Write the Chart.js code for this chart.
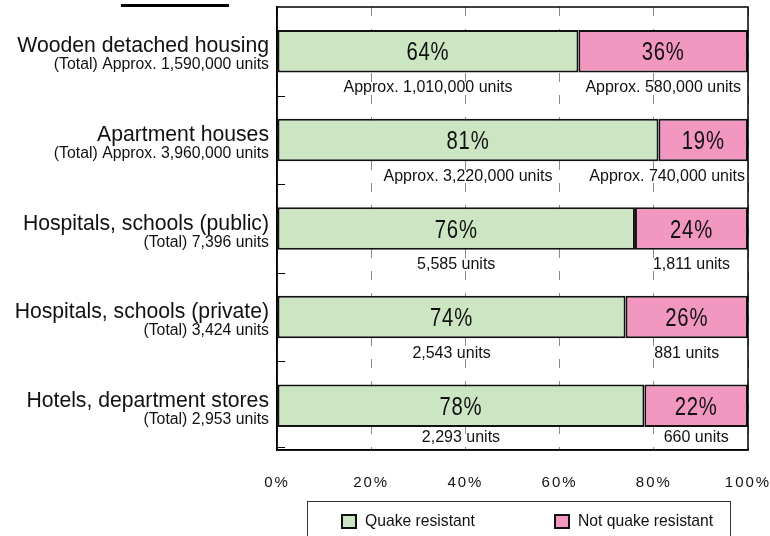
<!DOCTYPE html>
<html>
<head>
<meta charset="utf-8">
<script src="https://cdn.jsdelivr.net/npm/chart.js@4/dist/chart.umd.min.js"></script>
<style>
  html, body { margin: 0; padding: 0; background: #fff; }
  #wrap { width: 770px; height: 536px; position: relative; }
</style>
</head>
<body>
<div id="wrap"><canvas id="grafico" width="770" height="536"></canvas></div>
<script>
// datos del gráfico
const categorias = [
    'Wooden detached housing',
    'Apartment houses',
    'Hospitals, schools (public)',
    'Hospitals, schools (private)',
    'Hotels, department stores'
];
const totales = [
    '(Total) Approx. 1,590,000 units',
    '(Total) Approx. 3,960,000 units',
    '(Total) 7,396 units',
    '(Total) 3,424 units',
    '(Total) 2,953 units'
];
const resistentes = [64, 81, 76, 74, 78];
const noResistentes = [36, 19, 24, 26, 22];
const unidadesResistentes = [
    'Approx. 1,010,000 units',
    'Approx. 3,220,000 units',
    '5,585 units',
    '2,543 units',
    '2,293 units'
];
const unidadesNoResistentes = [
    'Approx. 580,000 units',
    'Approx. 740,000 units',
    '1,811 units',
    '881 units',
    '660 units'
];
const ticksX = [0, 20, 40, 60, 80, 100];
const nombresSeries = ['Quake resistant', 'Not quake resistant'];

const VERDE = '#cce6c4';
const ROSA = '#f297c0';
const unidades = [unidadesResistentes, unidadesNoResistentes];

// etiquetas del eje Y, marcas, borde, porcentajes y leyenda
const extras = {
    id: 'extras',
    beforeDraw(chart) {
        chart.ctx.letterSpacing = '2px';
    },
    beforeDatasetsDraw(chart) {
        chart.ctx.letterSpacing = '0px';
    },
    afterDatasetsDraw(chart) {
        const ctx = chart.ctx;
        const area = chart.chartArea;
        const y = chart.scales.y;
        ctx.save();

        // borde del área
        ctx.strokeStyle = '#000';
        ctx.lineWidth = 1.5;
        ctx.strokeRect(area.left, area.top, area.right - area.left, area.bottom - area.top);

        // marcas cortas entre categorías
        ctx.lineWidth = 1;
        for (let i = 0; i < categorias.length; i++) {
            let yy = i < categorias.length - 1
                ? (y.getPixelForValue(i) + y.getPixelForValue(i + 1)) / 2
                : area.bottom - 3;
            ctx.beginPath();
            ctx.moveTo(area.left, Math.round(yy) + 0.5);
            ctx.lineTo(area.left + 8, Math.round(yy) + 0.5);
            ctx.stroke();
        }

        // etiquetas de categoría (dos líneas)
        ctx.fillStyle = '#111';
        ctx.textAlign = 'right';
        ctx.textBaseline = 'alphabetic';
        categorias.forEach((cat, i) => {
            const cy = y.getPixelForValue(i);
            ctx.font = '21.2px "Liberation Sans", Arial, sans-serif';
            ctx.fillText(cat, area.left - 8, cy + 1);
            ctx.font = '15.8px "Liberation Sans", Arial, sans-serif';
            ctx.fillText(totales[i], area.left - 8, cy + 18);
        });

        // porcentajes y unidades
        chart.data.datasets.forEach((ds, d) => {
            const meta = chart.getDatasetMeta(d);
            meta.data.forEach((bar, i) => {
                const cx = (bar.x + bar.base) / 2;
                ctx.textAlign = 'center';
                ctx.textBaseline = 'middle';
                ctx.fillStyle = '#111';
                ctx.save();
                ctx.translate(cx, bar.y + 2);
                ctx.scale(0.78, 1);
                ctx.letterSpacing = '1px';
                ctx.font = '26px "Liberation Sans", Arial, sans-serif';
                ctx.fillText(ds.data[i] + '%', 0, 0);
                ctx.restore();

                ctx.font = '16px "Liberation Sans", Arial, sans-serif';
                const txt = unidades[d][i];
                const w = ctx.measureText(txt).width;
                let ux = cx;
                if (ux + w / 2 > area.right - 3) ux = area.right - 3 - w / 2;
                let uy = Math.min(bar.y + bar.height / 2 + 15, area.bottom - 12);
                ctx.fillText(txt, ux, uy);
            });
        });

        // leyenda con recuadro
        const lx = 307, ly = 501;
        ctx.lineWidth = 1;
        ctx.strokeStyle = '#333';
        ctx.strokeRect(lx + 0.5, ly + 0.5, 423, 60);
        const items = [
            { x: 342, color: VERDE },
            { x: 555, color: ROSA }
        ];
        items.forEach((it, k) => {
            ctx.fillStyle = it.color;
            ctx.fillRect(it.x, 515, 14, 13);
            ctx.lineWidth = 2;
            ctx.strokeStyle = '#111';
            ctx.strokeRect(it.x, 515, 14, 13);
            ctx.fillStyle = '#111';
            ctx.textAlign = 'left';
            ctx.textBaseline = 'middle';
            ctx.font = '15.7px "Liberation Sans", Arial, sans-serif';
            ctx.fillText(nombresSeries[k], it.x + 23, 522);
        });

        // subrayado del título cortado
        ctx.fillStyle = '#000';
        ctx.fillRect(121, 4, 108, 3);

        ctx.restore();
    }
};

const ctx = document.getElementById('grafico').getContext('2d');
new Chart(ctx, {
    type: 'bar',
    data: {
        labels: categorias,
        datasets: [
            {
                label: nombresSeries[0],
                data: resistentes,
                backgroundColor: VERDE,
                borderColor: '#111',
                borderWidth: 2,
                borderSkipped: false
            },
            {
                label: nombresSeries[1],
                data: noResistentes,
                backgroundColor: ROSA,
                borderColor: '#111',
                borderWidth: 2,
                borderSkipped: false
            }
        ]
    },
    options: {
        indexAxis: 'y',
        responsive: false,
        animation: false,
        layout: { padding: { left: 277, right: 22, top: 7, bottom: 0 } },
        datasets: { bar: { categoryPercentage: 1, barPercentage: 0.48 } },
        plugins: {
            legend: { display: false },
            tooltip: { enabled: false }
        },
        scales: {
            x: {
                stacked: true,
                min: 0,
                max: 100,
                afterFit: s => { s.height = 86; s.paddingLeft = 0; s.paddingRight = 0; },
                afterBuildTicks: s => { s.ticks = ticksX.map(v => ({ value: v })); },
                grid: {
                    color: '#8a8a8a',
                    lineWidth: 1,
                    drawTicks: false
                },
                border: { display: true, color: '#000', width: 1.5, dash: [9, 13] },
                ticks: {
                    padding: 24,
                    maxRotation: 0,
                    color: '#111',
                    font: { family: '"Liberation Sans", Arial, sans-serif', size: 15 },
                    callback: v => v + '%'
                }
            },
            y: {
                stacked: true,
                afterFit: s => { s.width = 0; },
                grid: { display: false },
                border: { display: true, color: '#000', width: 1.5 },
                ticks: { display: false }
            }
        }
    },
    plugins: [extras]
});
</script>
</body>
</html>
